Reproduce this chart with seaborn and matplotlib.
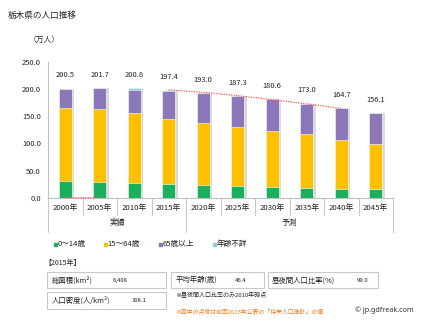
import numpy as np
import pandas as pd
import matplotlib
matplotlib.use("Agg")
import matplotlib.pyplot as plt
from matplotlib.patches import Rectangle
from matplotlib.transforms import blended_transform_factory
import seaborn as sns

# --- data (万人) ---
years = ["2000年", "2005年", "2010年", "2015年", "2020年",
         "2025年", "2030年", "2035年", "2040年", "2045年"]
age_0_14 = [30.0, 28.0, 27.0, 25.0, 22.5, 20.8, 19.2, 17.8, 16.5, 15.5]
age_15_64 = [135.4, 134.5, 128.5, 120.5, 114.2, 109.8, 104.0, 98.7, 89.5, 82.5]
age_65_plus = [35.1, 39.2, 42.0, 50.5, 56.3, 56.7, 57.4, 56.5, 58.7, 58.1]
totals = [200.5, 201.7, 200.8, 197.4, 193.0, 187.3, 180.6, 173.0, 164.7, 156.1]
# previous (2013) projection, dotted line
prev_projection = [0.0, 0.0, np.nan, 198.3, 193.7, 187.5, 180.3, 172.4, 164.3, np.nan]

legend_labels = ["0～14歳", "15～64歳", "65歳以上", "年齢不詳"]
colors = ["#1AAF5D", "#FFC000", "#8C78B8", "#8FCBD8"]

info_labels = ["総面積(km²)", "平均年齢(歳)", "昼夜間人口比率(%)", "人口密度(人/km²)"]
info_values = ["6,408", "46.4", "99.0", "308.1"]

sns.set_style("white")
plt.rcParams["font.family"] = ["Noto Sans CJK JP", "DejaVu Sans"]

W, H = 421, 322
fig = plt.figure(figsize=(W / 100, H / 100), dpi=100)
ax = fig.add_axes([48 / W, 1 - 197.7 / H, (393 - 48) / W, 136 / H])

def fx(x):
    return x / W

def fy(y):
    return 1 - y / H

# cumulative layers, drawn from the tallest down
c1 = np.array(age_0_14)
c2 = c1 + np.array(age_15_64)
c3 = c2 + np.array(age_65_plus)
c4 = np.array(totals)
df = pd.DataFrame({"year": years, "c1": c1, "c2": c2, "c3": c3, "c4": c4})

bar_w = 0.37
pos = np.arange(len(years))
# soft shadow behind each bar
ax.bar(pos + 0.075, c4, width=bar_w, color="#DADADA", zorder=0.5, linewidth=0)

for col, color in zip(["c4", "c3", "c2", "c1"], colors[::-1]):
    sns.barplot(data=df, x="year", y=col, order=years, color=color,
                width=bar_w, edgecolor="white", linewidth=0.4, ax=ax,
                saturation=1, zorder=2)

ax.plot(pos, prev_projection, color="#FF5A5A", linestyle=(0, (1, 1)),
        linewidth=0.9, zorder=3, clip_on=False)

for i, v in enumerate(totals):
    ax.annotate(f"{v:.1f}", (i, v), xytext=(0, 9.5), textcoords="offset points",
                ha="center", va="center", fontsize=5.4, color="#222222")

ax.set_xlim(-0.5, len(years) - 0.5)
ax.set_ylim(0, 250)
ax.set_yticks(np.arange(0, 251, 50))
ax.set_yticklabels([f"{t:.1f}" for t in np.arange(0, 251, 50)])
ax.set_xlabel("")
ax.set_ylabel("")
ax.tick_params(axis="y", length=0, pad=5, labelsize=5.4, labelcolor="#222222")
ax.tick_params(axis="x", length=0, pad=4.5, labelsize=5.6, labelcolor="#222222")
for s in ["top", "right"]:
    ax.spines[s].set_visible(False)
for s in ["left", "bottom"]:
    ax.spines[s].set_color("#BFBFBF")
    ax.spines[s].set_linewidth(0.8)

# category table under the axis
tr = blended_transform_factory(ax.transData, ax.transAxes)
for b in np.arange(0.5, len(years) - 1, 1.0):
    if b == 3.5:
        continue
    ax.plot([b, b], [0, -0.125], transform=tr, color="#C8C8C8", lw=0.8, clip_on=False)
for b in [-0.5, 3.5, 9.5]:
    ax.plot([b, b], [0, -0.25], transform=tr, color="#C8C8C8", lw=0.8, clip_on=False)
ax.text(1.5, -0.185, "実績", transform=tr, ha="center", va="center", fontsize=5.6, color="#222222")
ax.text(6.5, -0.185, "予測", transform=tr, ha="center", va="center", fontsize=5.6, color="#222222")

# titles
fig.text(fx(8), fy(15), "栃木県の人口推移", fontsize=6.2, va="center", ha="left", color="#222222")
fig.text(fx(29), fy(40), "（万人）", fontsize=5.6, va="center", ha="left", color="#222222")

# legend
leg_x = [55, 105, 160, 214]
for x, lab, c in zip(leg_x, legend_labels, colors):
    fig.patches.append(Rectangle((fx(x - 1.5), fy(245.5)), 3 / W, 3 / H,
                                 transform=fig.transFigure, color=c))
    fig.text(fx(x + 2.5), fy(244.3), lab, fontsize=5.5, va="center", ha="left", color="#222222")

# 2015 info boxes
fig.text(fx(44), fy(263), "【2015年】", fontsize=5, va="center", ha="left", color="#222222")
boxes = [(46.7, 272, 165.7, 288.3), (171, 272, 264.3, 288.3),
         (268, 272, 377.7, 288.3), (46.7, 292, 165.7, 309.3)]
label_x = [52, 176, 272, 52]
value_x = [113, 235, 357, 132]
for (x0, y0, x1, y1), lab, val, lx, vx in zip(boxes, info_labels, info_values, label_x, value_x):
    fig.patches.append(Rectangle((fx(x0), fy(y1)), (x1 - x0) / W, (y1 - y0) / H,
                                 transform=fig.transFigure, fill=False,
                                 edgecolor="#C8C8C8", linewidth=0.8))
    yc = (y0 + y1) / 2
    fig.text(fx(lx), fy(yc), lab, fontsize=5.3, va="center", ha="left", color="#222222")
    fig.text(fx(vx), fy(yc), val, fontsize=4.3, va="center", ha="left", color="#222222")

fig.text(fx(175), fy(295), "※昼夜間人口比率のみ2010年時点", fontsize=4.3,
         va="center", ha="left", color="#222222")
fig.text(fx(175), fy(311), "※図中の点線は前回2013年公表の「将来人口推計」の値", fontsize=4.2,
         va="center", ha="left", color="#F07818")
fig.text(fx(355), fy(310), "© jp.gdfreak.com", fontsize=5.2, va="center", ha="left",
         color="#333333", family=["Noto Sans", "DejaVu Sans"])

fig.savefig("out.png", dpi=100)
